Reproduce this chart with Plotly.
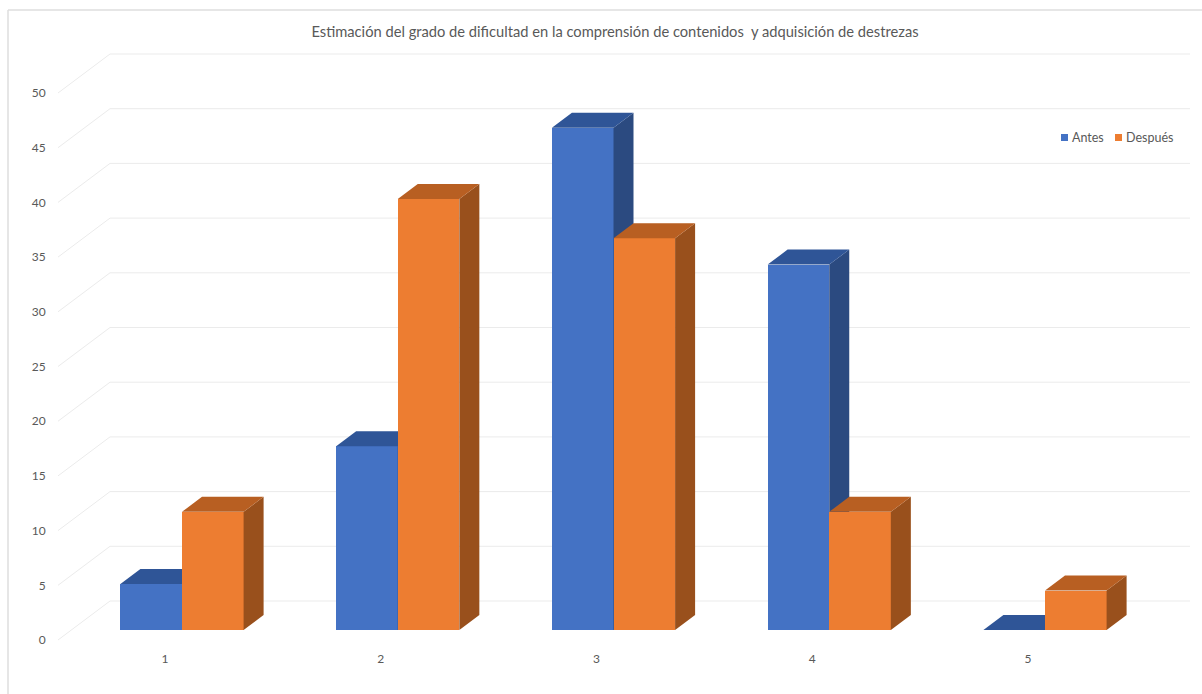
import plotly.graph_objects as go

# ---- data ----
categories = [1, 2, 3, 4, 5]
antes = [4.2, 16.8, 45.9, 33.4, 0.0]
despues = [10.8, 39.4, 35.8, 10.8, 3.6]
y_ticks = [0, 5, 10, 15, 20, 25, 30, 35, 40, 45, 50]
series_names = ["Antes", "Después"]
title_text = "Estimación del grado de dificultad en la comprensión de contenidos  y adquisición de destrezas"

# ---- geometry (pixels of the page) ----
W, H = 1202, 694
L, R, T, B = 58, 1190, 40, 646        # plot box
PX_X = 215.75                         # px per category
PX_Y = 10.94                          # px per value unit
WALL_DX, WALL_DY = 52, 39             # depth of the chart box
BAR_DX, BAR_DY = 20, 15               # depth of a bar
BAR_W = 61.6 / PX_X


def xr(first_cat_px):
    return [1 + (L - first_cat_px) / PX_X, 1 + (R - first_cat_px) / PX_X]


def yr(zero_px):
    return [(zero_px - B) / PX_Y, (zero_px - T) / PX_Y]


GRID = "#ebebeb"
TXT = "#595959"
FONT = "Lato"
COL = {
    "Antes": dict(front="#4472c4", top="#2f5597", side="#2b4a80"),
    "Después": dict(front="#ed7d31", top="#b85f22", side="#99501c"),
}

fig = go.Figure()

# ---- wall / floor grid, on the labelled axes ----
wx = xr(165)
dx_w, dy_w = WALL_DX / PX_X, WALL_DY / PX_Y
gx, gy = [], []
for v in y_ticks:
    gx += [wx[0], wx[0] + dx_w, wx[1], None]
    gy += [v, v + dy_w, v + dy_w, None]
fig.add_trace(go.Scatter(x=gx, y=gy, mode="lines", line=dict(color=GRID, width=1),
                         hoverinfo="skip", showlegend=False, xaxis="x", yaxis="y"))


# ---- bars with their top and side faces ----
def add_series(name, values, offset, xa, ya):
    c = COL[name]
    dx, dv = BAR_DX / PX_X, BAR_DY / PX_Y
    fig.add_trace(go.Bar(x=categories, y=values, name=name, width=BAR_W, offset=offset,
                         marker=dict(color=c["front"], line=dict(width=0)),
                         showlegend=False, xaxis=xa, yaxis=ya))
    tx, ty, sx, sy = [], [], [], []
    for cat, v in zip(categories, values):
        x0 = cat + offset
        x1 = x0 + BAR_W
        tx += [x0, x0 + dx, x1 + dx, x1, x0, None]
        ty += [v, v + dv, v + dv, v, v, None]
        sx += [x1, x1 + dx, x1 + dx, x1, x1, None]
        sy += [0, dv, v + dv, v, 0, None]
    for px, py, colr in ((sx, sy, c["side"]), (tx, ty, c["top"])):
        fig.add_trace(go.Scatter(x=px, y=py, mode="lines", fill="toself", fillcolor=colr,
                                 line=dict(width=0, color=colr), hoverinfo="skip",
                                 showlegend=False, xaxis=xa, yaxis=ya))


add_series(series_names[0], antes, -BAR_W, "x2", "y2")
add_series(series_names[1], despues, 0.0, "x3", "y3")

# ---- legend-like key and frame ----
shapes = [
    dict(type="line", xref="paper", yref="paper",
         x0=(8 - L) / (R - L), x1=(W - L) / (R - L),
         y0=(B - 10) / (B - T), y1=(B - 10) / (B - T),
         line=dict(color="#dedede", width=1.5)),
    dict(type="line", xref="paper", yref="paper",
         x0=(8 - L) / (R - L), x1=(8 - L) / (R - L),
         y0=(B - 10) / (B - T), y1=(B - H) / (B - T),
         line=dict(color="#dedede", width=1.5)),
]
annotations = []
key_x = [(1061, 1070), (1115, 1124)]
for name, (sq, tx) in zip(series_names, key_x):
    shapes.append(dict(type="rect", xref="paper", yref="paper",
                       x0=(sq - L) / (R - L), x1=(sq + 7 - L) / (R - L),
                       y0=(B - 134) / (B - T), y1=(B - 141) / (B - T),
                       fillcolor=COL[name]["front"], line=dict(width=0)))
    annotations.append(dict(text=name, xref="paper", yref="paper", showarrow=False,
                            x=(tx - L) / (R - L), y=(B - 137) / (B - T),
                            xanchor="left", yanchor="middle",
                            font=dict(family=FONT, size=12.5, color=TXT)))

hidden = dict(visible=False, fixedrange=True)
fig.update_layout(
    width=W, height=H,
    margin=dict(l=L, r=W - R, t=T, b=H - B),
    paper_bgcolor="white", plot_bgcolor="white",
    title=dict(text=title_text, x=615 / W, xanchor="center", xref="container",
               y=1 - 32 / H, yanchor="middle", font=dict(family=FONT, size=14.7, color=TXT)),
    showlegend=False,
    bargap=0,
    shapes=shapes,
    annotations=annotations,
    xaxis=dict(range=wx, tickmode="array", tickvals=categories, ticktext=[str(c) for c in categories],
               showgrid=False, zeroline=False, showline=False, ticks="outside", ticklen=2,
               tickcolor="rgba(0,0,0,0)", tickfont=dict(family=FONT, size=12, color=TXT)),
    yaxis=dict(range=yr(640), tickmode="array", tickvals=y_ticks, showgrid=False, zeroline=False,
               showline=False, ticks="outside", ticklen=9, tickcolor="rgba(0,0,0,0)",
               tickfont=dict(family=FONT, size=12, color=TXT)),
    xaxis2=dict(range=xr(182), overlaying="x", **hidden),
    yaxis2=dict(range=yr(630), overlaying="y", **hidden),
    xaxis3=dict(range=xr(182), overlaying="x", **hidden),
    yaxis3=dict(range=yr(630), overlaying="y", **hidden),
)

fig.write_html("out.html", config=dict(displayModeBar=False),
               post_script="document.body.style.margin='0';")
